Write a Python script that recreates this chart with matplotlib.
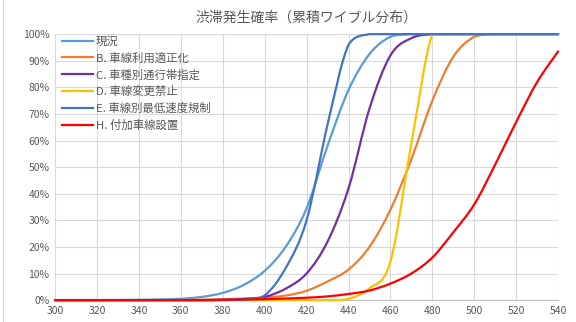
import numpy as np
import matplotlib
matplotlib.use("Agg")
import matplotlib.pyplot as plt
from matplotlib.path import Path
from matplotlib.patches import PathPatch
from matplotlib.lines import Line2D

plt.rcParams['font.family'] = ['Noto Sans CJK JP', 'DejaVu Sans']

# traffic volume (x) and cumulative Weibull probability of congestion (%)
volume = [300, 310, 320, 330, 340, 350, 360, 370, 380, 390, 400, 410, 420,
          430, 440, 450, 460, 470, 480, 490, 500, 510, 520, 530, 540]

genjo = [0, 0, 0, 0.05, 0.1, 0.25, 0.5, 1.2, 2.7, 5.7, 11, 20, 34.5,
         58, 79, 92.5, 99, 100, 100, 100, 100, 100, 100, 100, 100]
case_b = [0, 0, 0, 0, 0, 0, 0.05, 0.15, 0.3, 0.6, 1.0, 1.7, 3.5,
          7, 11.5, 20, 34, 53, 75, 91.5, 99, 100, 100, 100, 100]
case_c = [0, 0, 0, 0, 0, 0, 0, 0, 0.1, 0.4, 1.2, 4.3, 10,
          22, 42, 72, 92, 98.5, 100, 100, 100, 100, 100, 100, 100]
case_d = [0, 0, 0, 0, 0, 0, 0, 0, 0, 0, 0, 0, 0,
          0, 0.5, 4.4, 14.5, 59, 100, 100, 100, 100, 100, 100, 100]
case_e = [0, 0, 0, 0, 0, 0, 0, 0, 0.05, 0.3, 1.8, 12, 30,
          66, 96, 100, 100, 100, 100, 100, 100, 100, 100, 100, 100]
case_h = [0, 0, 0, 0, 0, 0, 0, 0, 0.1, 0.2, 0.35, 0.6, 0.9,
          1.4, 2.3, 3.6, 6.2, 10, 16, 25.5, 36, 51, 67, 82, 93.5]

labels = ['現況', 'B. 車線利用適正化', 'C. 車種別通行帯指定', 'D. 車線変更禁止',
          'E. 車線別最低速度規制', 'H. 付加車線設置']
colors = ['#5B9BD5', '#ED7D31', '#7030A0', '#FFC000', '#4472C4', '#FF0000']
series = [genjo, case_b, case_c, case_d, case_e, case_h]

title = '渋滞発生確率（累積ワイブル分布）'
xticks = list(range(300, 541, 20))
yticks = list(range(0, 101, 10))

text_gray = '#595959'
grid_gray = '#D9D9D9'


def smooth_path(x, y, top=None):
    """Cubic Bezier path through the points, like a spreadsheet 'smoothed line'."""
    p = np.column_stack([x, y]).astype(float)
    n = len(p)
    verts = [p[0]]
    codes = [Path.MOVETO]
    for i in range(n - 1):
        prev = p[max(i - 1, 0)]
        nxt = p[min(i + 2, n - 1)]
        c1 = p[i] + (p[i + 1] - prev) / 6.0
        c2 = p[i + 1] - (nxt - p[i]) / 6.0
        if top is not None:
            c1[1] = min(c1[1], top)
            c2[1] = min(c2[1], top)
        verts += [c1, c2, p[i + 1]]
        codes += [Path.CURVE4] * 3
    return Path(verts, codes)


fig = plt.figure(figsize=(5.76, 3.22), dpi=100)
ax = fig.add_axes([0.0955, 0.068, 0.8735, 0.826])

for vals, c, lab in zip(series, colors, labels):
    patch = PathPatch(smooth_path(volume, vals, top=max(vals)), facecolor='none',
                      edgecolor=c, lw=1.6, capstyle='round', joinstyle='round',
                      clip_on=False, zorder=3)
    ax.add_patch(patch)
    ax.plot([], [], color=c, lw=1.6, label=lab)

ax.set_xlim(300, 540)
ax.set_ylim(0, 100)
ax.set_xticks(xticks)
ax.set_yticks(yticks)
ax.set_yticklabels([f'{v}%' for v in yticks])
ax.tick_params(length=0, labelsize=7.5, colors=text_gray, pad=4)
ax.grid(True, color=grid_gray, lw=0.8)
ax.set_axisbelow(True)
for side in ['top', 'right', 'left']:
    ax.spines[side].set_visible(False)
ax.spines['bottom'].set_color('#BFBFBF')
ax.spines['bottom'].set_linewidth(0.8)

ax.set_title(title, fontsize=10, color=text_gray, pad=9)

ax.legend(loc='upper left', bbox_to_anchor=(62 / 576, 1 - 36 / 322),
          bbox_transform=fig.transFigure, frameon=False, fontsize=8.2,
          labelcolor=text_gray, handlelength=2.7, handletextpad=0.25,
          labelspacing=0.5, borderpad=0, borderaxespad=0)

# chart border on the left edge
fig.add_artist(Line2D([3 / 576, 3 / 576], [0, 1], color=grid_gray, lw=0.8))

fig.savefig('out.png', dpi=100)
